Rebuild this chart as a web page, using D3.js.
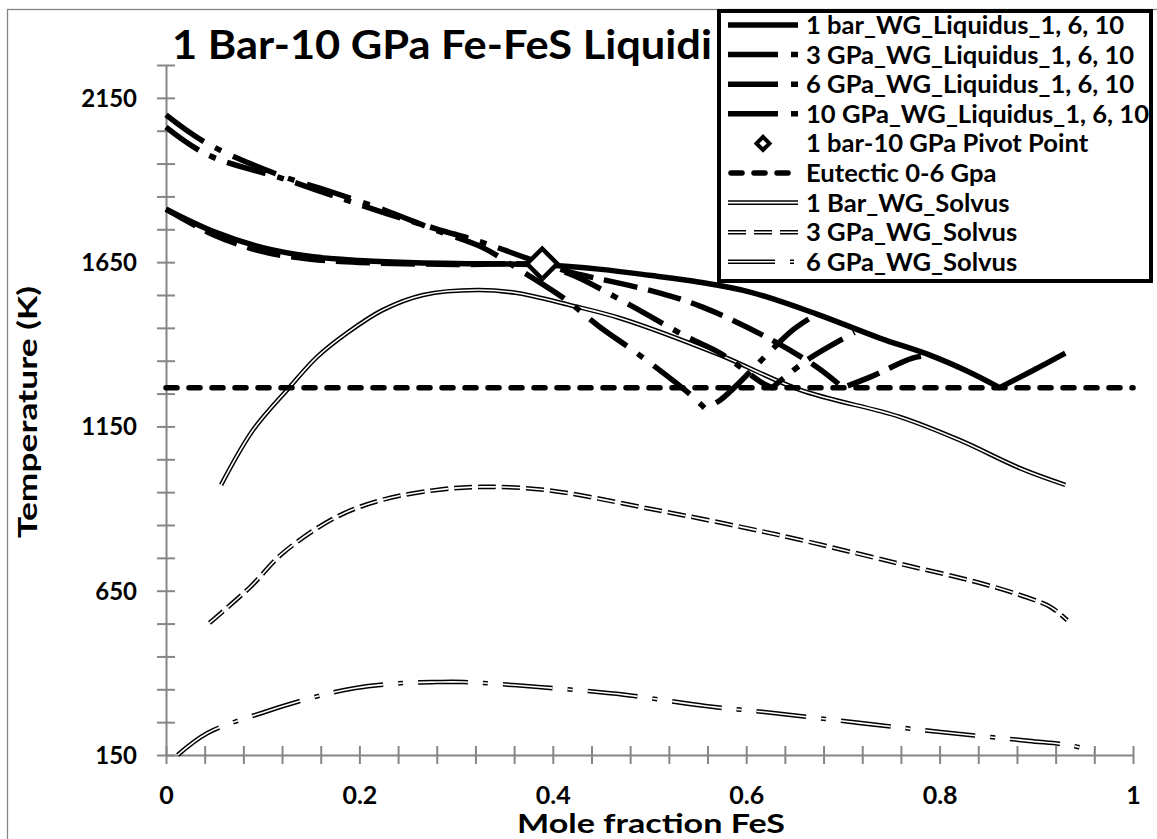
<!DOCTYPE html>
<html><head><meta charset="utf-8">
<script src="https://cdn.jsdelivr.net/npm/d3@7"></script>
<style>
body{margin:0;background:#fff;}
svg text{font-family:Lato,"Open Sans",sans-serif;font-weight:700;fill:#000;}
</style></head><body>
<svg id="chart" width="1157" height="839"></svg>
<script>
// ---------------- data ----------------
const chartTitle = "1 Bar-10 GPa Fe-FeS Liquidi";
const xTitle = "Mole fraction FeS";
const yTitle = "Temperature (K)";
const xTickLabels = [0, 0.2, 0.4, 0.6, 0.8, 1];
const yTickLabels = [150, 650, 1150, 1650, 2150];

const seriesNames = [
  "1 bar_WG_Liquidus_1, 6, 10",
  "3 GPa_WG_Liquidus_1, 6, 10",
  "6 GPa_WG_Liquidus_1, 6, 10",
  "10 GPa_WG_Liquidus_1, 6, 10",
  "1 bar-10 GPa Pivot Point",
  "Eutectic 0-6 Gpa",
  "1 Bar_WG_Solvus",
  "3 GPa_WG_Solvus",
  "6 GPa_WG_Solvus"
];

// [mole fraction FeS, temperature K]
const liquidus1bar = [[0,1811],[0.05,1742],[0.1,1694],[0.15,1667],[0.2,1655],[0.25,1649],[0.3,1646],[0.389,1642],
  [0.45,1628],[0.5,1610],[0.552,1589],[0.604,1559],[0.673,1492],[0.738,1419],[0.79,1367],[0.831,1315],[0.862,1268],
  [0.895,1318],[0.93,1373]];
const liquidus3GPa = [[0,1811],[0.05,1732],[0.1,1682],[0.15,1659],[0.2,1649],[0.3,1643],[0.389,1641],
  [0.421,1617],[0.511,1556],[0.555,1513],[0.617,1428],[0.673,1331],[0.70,1268],
  [0.728,1300],[0.772,1358],[0.79,1367]];
const liquidus6GPa = [[0,2061],[0.042,1978],[0.12,1905],[0.173,1852],[0.229,1797],[0.281,1750],[0.327,1710],[0.389,1645],
  [0.425,1605],[0.48,1519],[0.539,1422],[0.573,1373],[0.617,1282],[0.627,1268],
  [0.663,1352],[0.712,1436]];
const liquidus10GPa = [[0,2098],[0.042,2012],[0.12,1912],[0.173,1862],[0.229,1805],[0.281,1745],[0.327,1695],[0.366,1626],
  [0.411,1541],[0.449,1452],[0.487,1373],[0.539,1255],[0.557,1206],
  [0.573,1230],[0.621,1367],[0.648,1443],[0.676,1498]];
const pivotPoint = [[0.389,1645]];
const eutectic = [[0,1268],[1,1268]];
const solvus1bar = [[0.057,972],[0.09,1139],[0.128,1270],[0.156,1361],[0.187,1434],[0.224,1504],[0.266,1550],
  [0.322,1565],[0.363,1556],[0.418,1519],[0.469,1480],[0.573,1367],[0.656,1261],[0.759,1179],[0.821,1108],[0.883,1023],[0.93,972]];
const solvus3GPa = [[0.045,552],[0.087,661],[0.121,765],[0.176,874],[0.223,926],[0.278,956],[0.326,966],[0.394,956],
  [0.496,902],[0.633,820],[0.756,734],[0.84,675],[0.89,630],[0.915,600],[0.932,560]];
const solvus6GPa = [[0.012,150],[0.043,217],[0.099,278],[0.162,333],[0.196,354],[0.245,369],[0.28,372],[0.308,372],
  [0.385,357],[0.475,333],[0.558,299],[0.628,278],[0.719,247],[0.801,220],[0.892,193],[0.934,180],[0.96,162]];

// ---------------- layout ----------------
const svg = d3.select("#chart");
const x = d3.scaleLinear().domain([0,1]).range([166,1133]);
const y = d3.scaleLinear().domain([150,2250]).range([755,65]);
const AX = "#868686";

// outer chart frame
svg.append("rect").attr("x",7.5).attr("y",9.5).attr("width",1160).attr("height",840)
  .attr("fill","none").attr("stroke",AX).attr("stroke-width",1.3);

// axes
const yAxis = d3.axisLeft(y).tickValues(d3.range(150,2251,100))
  .tickFormat(d => yTickLabels.includes(d) ? d : "").tickSize(0);
const gy = svg.append("g").attr("transform","translate(166,0)").call(yAxis);
gy.select(".domain").attr("stroke",AX).attr("stroke-width",2);
gy.selectAll(".tick line").attr("x1",-9).attr("x2",9).attr("stroke",AX).attr("stroke-width",2);
gy.selectAll(".tick text").attr("x",-29).attr("dy","0.35em").style("font-size","24px");

const xAxis = d3.axisBottom(x).tickValues(d3.range(0,1.0001,0.04))
  .tickFormat(d => { const m = xTickLabels.find(v => Math.abs(v-d)<1e-6); return m===undefined ? "" : String(m); })
  .tickSize(0);
const gx = svg.append("g").attr("transform","translate(0,755)").call(xAxis);
gx.select(".domain").attr("stroke",AX).attr("stroke-width",2);
gx.selectAll(".tick line").attr("y1",-9).attr("y2",9).attr("stroke",AX).attr("stroke-width",2);
gx.selectAll(".tick text").attr("y",40).attr("dy","0.35em").style("font-size","25px");

// titles
function fit(sel, w){ sel.attr("textLength",w).attr("lengthAdjust","spacingAndGlyphs"); }
const tt = svg.append("text").attr("x",172).attr("y",59).style("font-size","40px").text(chartTitle);
fit(tt,540);
const xt = svg.append("text").attr("x",651).attr("y",833).attr("text-anchor","middle").style("font-size","27px").text(xTitle);
fit(xt,268);
const yt = svg.append("text").attr("transform","translate(37,412) rotate(-90)").attr("text-anchor","middle")
  .style("font-size","27px").text(yTitle);
fit(yt,252);

// line generator helpers
const lineGen = d3.line().x(d=>x(d[0])).y(d=>y(d[1])).curve(d3.curveCatmullRom.alpha(0.5));
// split at temperature minimum so the eutectic vertex stays sharp
function vPath(data){
  let mi = 0; data.forEach((d,i)=>{ if(d[1] < data[mi][1]) mi = i; });
  const a = lineGen(data.slice(0,mi+1));
  if (mi >= data.length-1) return a;
  const b = lineGen(data.slice(mi));
  return a + b.replace(/^M/, "L");
}

const plot = svg.append("g");

// solvus (double lines)
function doubleLine(g, data, dash){
  const d = lineGen(data);
  g.append("path").attr("d",d).attr("fill","none").attr("stroke","#000").attr("stroke-width",4.6)
    .attr("stroke-dasharray",dash);
  g.append("path").attr("d",d).attr("fill","none").attr("stroke","#fff").attr("stroke-width",1.6)
    .attr("stroke-dasharray",dash);
}
doubleLine(plot, solvus6GPa, "50,15,5,15");
doubleLine(plot, solvus3GPa, "18,6");
doubleLine(plot, solvus1bar, null);

// eutectic
plot.append("path").attr("d", d3.line().x(d=>x(d[0])).y(d=>y(d[1]))(eutectic))
  .attr("fill","none").attr("stroke","#000").attr("stroke-width",5.5)
  .attr("stroke-dasharray","11,12").attr("stroke-linecap","round");

// liquidus lines
const liqStyles = [
  {data: liquidus10GPa, dash: "46,13,7,13"},
  {data: liquidus6GPa, dash: "40,12,7,12"},
  {data: liquidus3GPa, dash: "34,11"},
  {data: liquidus1bar, dash: null}
];
liqStyles.forEach(s => {
  plot.append("path").attr("d", vPath(s.data)).attr("fill","none").attr("stroke","#000")
    .attr("stroke-width",5.5).attr("stroke-dasharray",s.dash).attr("stroke-linejoin","round");
});

// pivot marker
plot.selectAll(".pivot").data(pivotPoint).join("path")
  .attr("transform", d => `translate(${x(d[0])},${y(d[1])}) rotate(45)`)
  .attr("d", d3.symbol().type(d3.symbolSquare).size(460)())
  .attr("fill","#fff").attr("stroke","#000").attr("stroke-width",4.5);

// ---------------- legend ----------------
const lg = svg.append("g");
lg.append("rect").attr("x",719).attr("y",11).attr("width",432).attr("height",270)
  .attr("fill","#fff").attr("stroke","#000").attr("stroke-width",4);
const rowY = i => 25 + 29.6*i;
const sx0 = 728, sx1 = 798;
const legendKinds = [
  {type:"line", dash:null},
  {type:"line", dash:"50,13,7,13"},
  {type:"line", dash:"50,13,7,13"},
  {type:"line", dash:"50,13,7,13"},
  {type:"marker"},
  {type:"eut"},
  {type:"double", dash:null},
  {type:"double", dash:"18,8"},
  {type:"double", dash:"47,15,4,15"}
];
seriesNames.forEach((name,i) => {
  const k = legendKinds[i], yy = rowY(i);
  const seg = [[sx0,yy],[sx1,yy]];
  const l = d3.line();
  if (k.type === "line") {
    lg.append("path").attr("d",l(seg)).attr("stroke","#000").attr("stroke-width",5.5).attr("stroke-dasharray",k.dash);
  } else if (k.type === "marker") {
    lg.append("path").attr("transform",`translate(${(sx0+sx1)/2},${yy}) rotate(45)`)
      .attr("d", d3.symbol().type(d3.symbolSquare).size(85)())
      .attr("fill","#fff").attr("stroke","#000").attr("stroke-width",4);
  } else if (k.type === "eut") {
    lg.append("path").attr("d",l([[sx0+3,yy],[sx1,yy]])).attr("stroke","#000").attr("stroke-width",5.5)
      .attr("stroke-dasharray","11,12").attr("stroke-linecap","round");
  } else {
    lg.append("path").attr("d",l(seg)).attr("stroke","#000").attr("stroke-width",4.6).attr("stroke-dasharray",k.dash);
    lg.append("path").attr("d",l(seg)).attr("stroke","#fff").attr("stroke-width",1.6).attr("stroke-dasharray",k.dash);
  }
});
const ltexts = lg.selectAll(".lt").data(seriesNames).join("text").attr("class","lt")
  .attr("x",806).attr("y",(d,i)=>rowY(i)).attr("dy","0.36em").style("font-size","25px").text(d=>d);
// scale legend text widths uniformly so the longest entry matches
let maxW = 0; ltexts.each(function(){ maxW = Math.max(maxW, this.getComputedTextLength()); });
const r = 343 / maxW;
ltexts.each(function(){ const w = this.getComputedTextLength(); d3.select(this).attr("textLength", w*r).attr("lengthAdjust","spacingAndGlyphs"); });
</script>
</body></html>
